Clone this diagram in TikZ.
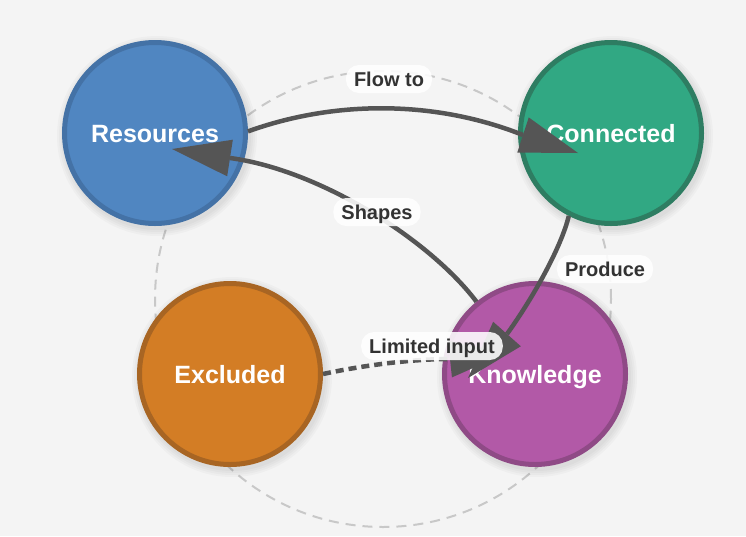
\documentclass[tikz,border=0pt]{standalone}
\usepackage{fontspec}
\setmainfont{Liberation Sans}
\usetikzlibrary{calc}
\definecolor{bgc}{RGB}{244,244,244}
\definecolor{ringc}{RGB}{200,200,200}
\definecolor{resf}{RGB}{80,134,193}
\definecolor{resd}{RGB}{68,114,166}
\definecolor{conf}{RGB}{49,168,131}
\definecolor{cond}{RGB}{46,125,98}
\definecolor{excf}{RGB}{211,125,37}
\definecolor{excd}{RGB}{168,101,35}
\definecolor{knof}{RGB}{178,89,167}
\definecolor{knod}{RGB}{143,74,134}
\definecolor{linkc}{RGB}{85,85,85}
\definecolor{labc}{RGB}{51,51,51}
\newcommand\arrowhd[2]{\fill[linkc] (#2) -- ($(#1)!18.5pt!90:(#2)$) -- ($(#1)!18.5pt!-90:(#2)$) -- cycle;}
\begin{document}
\begin{tikzpicture}[x=1pt,y=-1pt,
  circ/.style={circle, minimum size=181pt, inner sep=0pt, outer sep=2.5pt, line width=5pt,
    text=white, font=\bfseries\fontsize{25}{30}\selectfont, text height=18pt, text depth=0pt},
  link/.style={draw=linkc, line width=4.5pt},
  ring/.style={draw=ringc, line width=2pt, dash pattern=on 10pt off 7pt},
  softshadow/.style={fill=black, fill opacity=0.025},
  elabel/.style={fill=white, fill opacity=0.88, text opacity=1, text=labc, rounded corners=13pt,
    inner xsep=8pt, inner ysep=0pt, minimum height=28pt,
    font=\bfseries\fontsize{20}{24}\selectfont, text height=14.4pt, text depth=0pt}]
\useasboundingbox (0,0) rectangle (746,536);
\fill[bgc] (0,0) rectangle (746,536);
\draw[ring] (383,299) circle[radius=228pt];

\foreach \cx/\cy in {155/133, 611/133, 230/374, 535/374}{
  \foreach \r in {94,96,98,100}{
    \fill[softshadow] (\cx+2,\cy+3) circle[radius=\r pt];
  }
}

\node[circ, fill=resf, draw=resd] (res) at (155,133) {Resources};
\node[circ, fill=conf, draw=cond] (con) at (611,133) {Connected};
\node[circ, fill=excf, draw=excd] (exc) at (230,374) {Excluded};
\node[circ, fill=knof, draw=knod] (kno) at (535,374) {Knowledge};

\coordinate (ftM) at (523,135); \coordinate (ftT) at (578,153);
\coordinate (shM) at (230,158); \coordinate (shT) at (172,149);
\coordinate (prM) at (507,334); \coordinate (prT) at (468,378);
\coordinate (liM) at (450,359); \coordinate (liT) at (507,353);

\draw[link] (res.1) .. controls (335,100) and (435,100) .. (ftM);
\arrowhd{ftM}{ftT}
\draw[link] (kno.129) .. controls (430,240) and (320,170) .. (shM);
\arrowhd{shM}{shT}
\draw[link] (con.-117) .. controls (562,245) and (535,295) .. (prM);
\arrowhd{prM}{prT}
\draw[link, dash pattern=on 8pt off 5pt] (exc.east) .. controls (360,366) and (410,359) .. (liM);
\arrowhd{liM}{liT}

\node[elabel] (lf) at (389,79) {Flow to};
\node[elabel] (ls) at (377,212) {Shapes};
\node[elabel] (lp) at (605,269) {Produce};
\node[elabel] (ll) at (432,346) {Limited input};
\end{tikzpicture}
\end{document}
